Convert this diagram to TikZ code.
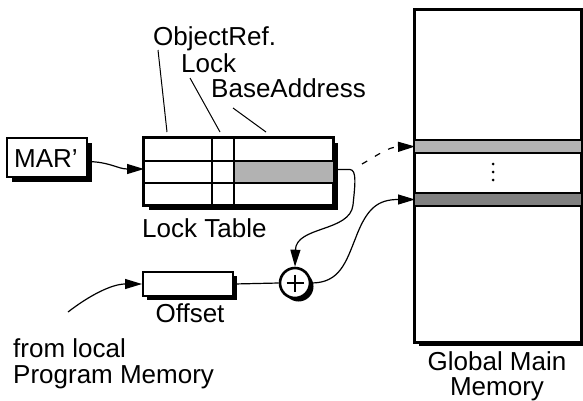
\documentclass[tikz,border=0pt]{standalone}
\usepackage{fontspec}
\setmainfont{Liberation Sans}
\usetikzlibrary{arrows.meta,shadows,calc}

\definecolor{cellgrey}{gray}{0.70}
\definecolor{bandlight}{gray}{0.70}
\definecolor{banddark}{gray}{0.50}

\begin{document}
\begin{tikzpicture}[x=1pt,y=-1pt,
  font=\fontsize{26}{30}\selectfont,
  thickbox/.style={draw, line width=2pt, fill=white, inner sep=0pt},
  shade4/.style={drop shadow={shadow xshift=4.5pt, shadow yshift=-5pt, opacity=1, fill=black}},
  shade3/.style={drop shadow={shadow xshift=3.5pt, shadow yshift=-3.5pt, opacity=1, fill=black}},
  lbl/.style={inner sep=0pt},
  conn/.style={line width=1.2pt},
  arr/.style={conn, -{Triangle[length=17pt,width=10pt]}},
  lead/.style={line width=1pt},
  gridline/.style={line width=1.1pt},
]
\useasboundingbox (0,0) rectangle (583,400);

% ---- MAR' register
\node[thickbox, shade4, minimum width=80pt, minimum height=39pt] (mar) at (47,157.5) {};
\node[lbl, anchor=base] (martxt) at (46,167) {MAR’};

% ---- lock table
\node[thickbox, shade4, minimum width=189pt, minimum height=67pt] (lt) at (238.5,171.5) {};
\fill[cellgrey] (234,161) rectangle (333,183);
\draw[gridline] (144,161) -- (333,161);
\draw[gridline] (144,183) -- (333,183);
\draw[gridline] (212,138) -- (212,205);
\draw[gridline] (234,138) -- (234,205);
\draw[line width=2pt] (lt.north west) rectangle (lt.south east);
\node[lbl, anchor=base west] (lttxt) at (142,237) {Lock Table};

% column labels and their leader lines
\node[lbl, anchor=base west] (objref) at (153,45) {ObjectRef.};
\node[lbl, anchor=base west] (lock) at (181,72) {Lock};
\node[lbl, anchor=base west] (base) at (211,97) {BaseAddress};
\draw[lead] (158,50) -- (167,132);
\draw[lead] (190,78) -- (220,132);
\draw[lead] (233,108) -- (266,132);

% ---- offset register and adder
\node[thickbox, shade3, minimum width=90pt, minimum height=24pt] (off) at (188,284) {};
\node[lbl, anchor=base] (offtxt) at (190,322) {Offset};
\node[circle, thickbox, line width=2.6pt, shade3, minimum size=30pt] (plus) at (295,283) {};
\draw[line width=2.4pt] ($(plus.center)+(-8.5,0)$) -- ($(plus.center)+(8.5,0)$);
\draw[line width=2.4pt] ($(plus.center)+(0,-8.5)$) -- ($(plus.center)+(0,8.5)$);

\node[lbl, anchor=base west] (src1) at (13,357) {from local};
\node[lbl, anchor=base west] (src2) at (13,383) {Program Memory};

% ---- global main memory
\node[thickbox, shade3, minimum width=166pt, minimum height=332pt] (mem) at (498,176) {};
\fill[bandlight] (415,140) rectangle (581,153);
\fill[banddark] (415,193) rectangle (581,206);
\draw[line width=1.6pt] (415,140) -- (581,140) (415,153) -- (581,153);
\draw[line width=1.6pt] (415,193) -- (581,193) (415,206) -- (581,206);
\foreach \yy in {164,172,180} \fill (493,\yy) circle (1.5pt);
\draw[line width=2pt] (mem.north west) rectangle (mem.south east);
\node[lbl, anchor=base] (memtxt1) at (497,370) {Global Main};
\node[lbl, anchor=base] (memtxt2) at (497,395) {Memory};

% ---- connectors
\coordinate (ltin) at (144,169);
\coordinate (ltout) at (337,169.5);
\coordinate (lightin) at (415,146.5);
\coordinate (darkin) at (415,199.5);
\coordinate (dashfrom) at (362,164);
\coordinate (progmem) at (68,312);

\draw[arr] (mar.east) ++(0,4) .. controls (110,162) and (118,169) .. (ltin);
\draw[arr] (ltout) -- (350,169.5) .. controls (357,170) and (355,185) .. (353,205)
  .. controls (350,232) and (296,226) .. (plus.north);
\draw[arr, dash pattern=on 6pt off 9pt] (dashfrom) .. controls (378,155) and (388,147) .. (lightin);
\draw[conn] (off.east) -- (plus.west);
\draw[arr] (plus.east) .. controls (340,283) and (346,262) .. (356,237)
  .. controls (367,208) and (378,199.5) .. (darkin);
\draw[arr] (progmem) .. controls (90,295) and (112,284) .. (off.west);
\end{tikzpicture}
\end{document}
